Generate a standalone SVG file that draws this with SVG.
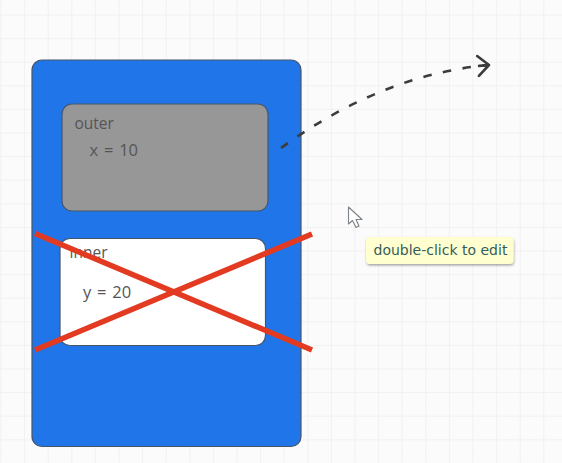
<svg xmlns="http://www.w3.org/2000/svg" width="562" height="463" viewBox="0 0 562 463">
<defs>
<pattern id="grid" x="1.500" y="15.500" width="23.6" height="23.6" patternUnits="userSpaceOnUse"><path d="M23.6 0V23.6M0 23.6H23.6" fill="none" stroke="#eeeeee" stroke-width="1.5"/></pattern>
<marker id="open" markerUnits="userSpaceOnUse" markerWidth="24" markerHeight="28" refX="13" refY="12" orient="auto"><path d="M2 2L13 12L2 22M3 12H13" fill="none" stroke="#3c3c3c" stroke-width="2.6" stroke-linecap="round" stroke-linejoin="round"/></marker>
<filter id="sh" x="-10%" y="-20%" width="120%" height="150%"><feDropShadow dx="0.5" dy="1.5" stdDeviation="1" flood-color="#000" flood-opacity=".35"/></filter>
</defs>
<style>
text{font-family:"Open Sans","Noto Sans",sans-serif;font-size:15.500px;fill:#555}
.val{font-size:16.500px;word-spacing:1.500px}
.box{stroke:#46566a;stroke-width:1.2}
.cross{stroke:#e33b22;stroke-width:5.500;fill:none}
</style>
<rect width="562" height="463" fill="#fbfbfb"/>
<rect width="562" height="463" fill="url(#grid)"/>
<g id="frame"><rect class="box" x="32" y="60" width="269" height="386.500" rx="10" fill="#2075e8"/></g>
<g id="outer"><rect class="box" x="62" y="104" width="206" height="107" rx="10" fill="#979797"/><text x="74.500" y="129">outer</text><text class="val" x="89.500" y="155.500">x = 10</text></g>
<g id="inner"><rect class="box" x="60" y="238.500" width="205.500" height="107" rx="10" fill="#fff"/><text x="69.500" y="258">inner</text><text class="val" x="83" y="297.500">y = 20</text></g>
<g id="connectors"><path d="M281 148C340 105 410 72 489 65" fill="none" stroke="#3c3c3c" stroke-width="2.600" stroke-dasharray="8.500 11.500" marker-end="url(#open)"/></g>
<g id="cross"><path class="cross" d="M35 233.500L312 350M35 350L312 234"/></g>
<g id="cursor"><path d="M348.500 207V224L352.500 220.500L356 227.500L359 226L356 219.500L362 219.500Z" fill="#fff" stroke="#7c8087" stroke-width="1.100" stroke-linejoin="round"/></g>
<g id="tooltip"><rect x="366" y="237" width="147.500" height="27" rx="4" fill="#ffffcf" filter="url(#sh)"/><text x="373.500" y="255" style="font-family:'DejaVu Sans',sans-serif;font-size:14px;fill:#355c5c">double-click to edit</text></g>
</svg>
